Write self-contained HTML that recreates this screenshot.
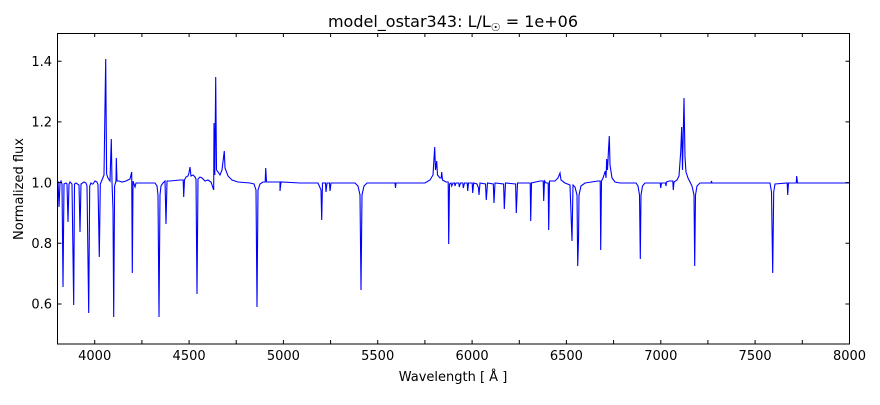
<!DOCTYPE html>
<html><head><meta charset="utf-8"><style>
body{margin:0;background:#fff;}
svg text{font-family:"DejaVu Sans","Liberation Sans",sans-serif;fill:#000;}
</style></head><body>
<svg width="880" height="400" viewBox="0 0 880 400" xmlns="http://www.w3.org/2000/svg">
<rect width="880" height="400" fill="#fff"/>
<clipPath id="c"><rect x="57.5" y="33" width="792" height="311"/></clipPath>
<path clip-path="url(#c)" fill="none" stroke="#0000ff" stroke-width="1.1" d="M57,183 L58,181 L59,207 L60,183 L61,181 L62,184 L63,287 L64,184 L66,183 L67,184 L68,222 L69,184 L70,182 L72,184 L73.7,305 L74.5,184 L76,183 L79,185 L80,232 L81,184 L84,182 L86,183 L87,186 L88.7,313 L89.7,186 L91,183 L92,184 L93,184 L95,181 L97,182 L98,185 L99.3,257 L100.3,184 L102,180 L104,175 L105.7,59 L106.6,174 L108,178 L110,181 L111.3,139 L112,182 L113,210 L113.7,317 L114.6,186 L116,181 L116.3,158 L117,181 L119,181 L122,182 L126,181 L130,179 L131.7,172 L132.3,273 L133,181 L135,187 L136,183 L140,183 L150,183 L155,183 L157,186 L158,195 L159,317 L160,195 L161,186 L163,183 L165,181 L166,224 L167,181 L170,181 L180,180 L183.2,180 L183.7,197 L184.5,180 L186,177 L188,176 L189,173 L190,167 L191,176 L193,175 L195,177 L196,179 L197,294 L198,179 L200,177 L202,178 L205,181 L208,180 L211,182 L213.7,190 L214,123 L214.8,175 L215.7,77 L216.5,170 L218,172 L220,175 L222,170 L224.3,151 L225,168 L228,176 L232,180 L238,182 L250,183 L254,184 L256,190 L257,307 L258,190 L260,184 L263,182 L265.2,182 L265.7,168 L266.5,182 L270,182 L280,182 L280,191 L281,182 L300,183 L318,183 L321,190 L321.7,220 L322.5,183 L325.5,183 L326,192 L327,183 L329.5,183 L330,191 L331,183 L340,183 L355,183 L358,186 L360,195 L361,290 L362,195 L364,186 L367,183 L395,183 L395.5,188 L396,183 L425,183 L430,180 L433,175 L434.7,147 L435.5,170 L436.7,161 L437.5,175 L440,178 L441.2,178 L441.7,172 L442.5,180 L446,182 L448.2,182 L448.7,244 L449.5,184 L451,183 L451.7,186 L453,183 L454.5,183 L455,186 L456,183 L458.8,183 L459.3,187 L460.5,183 L462.8,183 L463.3,188 L464.5,183 L467.2,183 L467.7,191 L468.5,183 L472.2,183 L472.7,193 L473.7,183 L477,184 L478.5,188 L479,195 L480,183 L485.5,184 L486.3,200 L487.5,183 L493.3,184 L494,203 L495,183 L503.6,184 L504.3,209 L505.5,183 L515.6,184 L516.3,213 L517.5,183 L525,183 L530.2,183 L530.7,221 L531.5,183 L540,181 L543.2,181 L543.7,201 L544.5,181 L546,183 L548.2,183 L548.7,230 L549.5,181 L555,181 L558,178 L560,173 L561,180 L565,183 L570,185 L572,241 L573,185 L575,187 L577,195 L577.7,266 L578.5,240 L579,195 L581,186 L585,183 L598,181 L600.2,181 L600.7,250 L601.5,181 L603,178 L605.3,171 L606,178 L606.7,159 L607.5,170 L608.5,150 L609.3,136 L610,165 L612,178 L615,182 L620,183 L636,183 L638,186 L639.5,195 L640.3,259 L641,195 L642.5,186 L645,183 L660.2,183 L660.7,188 L661.5,183 L665.5,183 L666,186 L666.5,182 L669,181 L672.8,181 L673.3,190 L674,182 L677,180 L679,176 L680.7,152 L681.7,127 L682.5,170 L684,98 L685,157 L686,172 L688,178 L690,182 L692,186 L694,195 L694.7,266 L695.5,195 L697,186 L700,183 L711,183 L711.5,181 L712,183 L770,183 L771.5,192 L772.7,273 L773.7,192 L775,184 L787.2,183 L787.7,195 L788.5,183 L796.2,183 L796.7,176 L797.5,183 L849,183"/>
<rect x="57.5" y="33.5" width="792" height="310.5" fill="none" stroke="#000" stroke-width="1"/>
<g stroke="#000" stroke-width="1">
<path d="M94.7,344v-4M94.7,33v4M141.9,344v-4M141.9,33v4M189.1,344v-4M189.1,33v4M236.2,344v-4M236.2,33v4M283.4,344v-4M283.4,33v4M330.6,344v-4M330.6,33v4M377.7,344v-4M377.7,33v4M424.9,344v-4M424.9,33v4M472.1,344v-4M472.1,33v4M519.3,344v-4M519.3,33v4M566.4,344v-4M566.4,33v4M613.6,344v-4M613.6,33v4M660.8,344v-4M660.8,33v4M707.9,344v-4M707.9,33v4M755.1,344v-4M755.1,33v4M802.3,344v-4M802.3,33v4"/>
<path d="M57.5,304h4M849.5,304h-4M57.5,243.3h4M849.5,243.3h-4M57.5,182.6h4M849.5,182.6h-4M57.5,121.9h4M849.5,121.9h-4M57.5,61.3h4M849.5,61.3h-4"/>
</g>
<g font-size="13" text-anchor="middle">
<text x="94.7" y="360">4000</text><text x="189.1" y="360">4500</text><text x="283.4" y="360">5000</text><text x="377.7" y="360">5500</text><text x="472.1" y="360">6000</text><text x="566.4" y="360">6500</text><text x="660.8" y="360">7000</text><text x="755.1" y="360">7500</text><text x="849.5" y="360">8000</text>
</g>
<g font-size="13" text-anchor="end">
<text x="52" y="308.5">0.6</text><text x="52" y="248">0.8</text><text x="52" y="187.3">1.0</text><text x="52" y="126.6">1.2</text><text x="52" y="66">1.4</text>
</g>
<text x="453" y="381" font-size="13" text-anchor="middle">Wavelength [ Å ]</text>
<text transform="translate(23,189) rotate(-90)" font-size="13" text-anchor="middle">Normalized flux</text>
<text x="453" y="27" font-size="16" text-anchor="middle">model_ostar343: L/L<tspan font-size="11" dy="4">☉</tspan><tspan dy="-4"> = 1e+06</tspan></text>
</svg>
</body></html>
